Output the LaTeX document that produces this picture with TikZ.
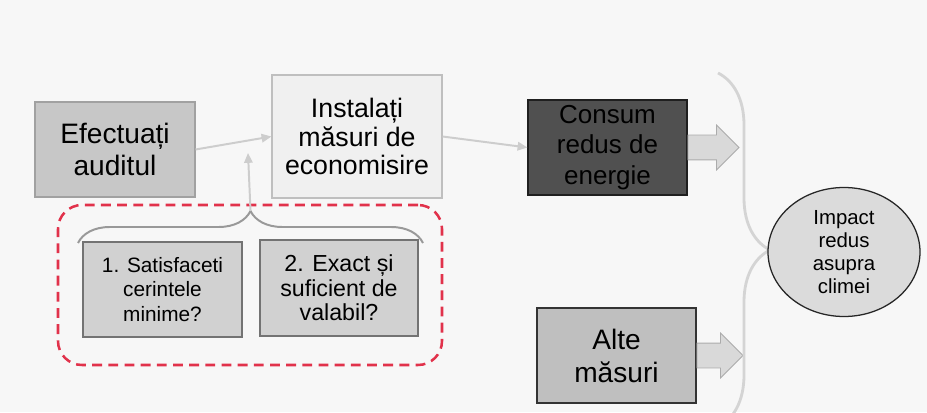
\documentclass[tikz,border=0pt]{standalone}
\usepackage{fontspec}
\setmainfont{Liberation Sans}
\definecolor{bggray}{RGB}{247, 247, 247}
\definecolor{linegray}{RGB}{205, 205, 205}
\definecolor{bracegray}{RGB}{212, 212, 212}
\definecolor{checkred}{RGB}{225, 50, 75}
\definecolor{darkfill}{RGB}{80, 80, 80}
\usetikzlibrary{shapes, arrows.meta, positioning, calc, decorations.pathreplacing}

\begin{document}
\begin{tikzpicture}[
  box/.style={draw, line width=0.8pt, align=center, inner sep=2pt, minimum width=3.975cm, minimum height=2.375cm},
  flow/.style={draw=linegray, line width=1.4pt, -{Triangle[length=7pt, width=6pt]}},
  fatarrow/.style={single arrow, draw=black!33, fill=black!15, line width=0.6pt, single arrow head extend=0.25cm, single arrow tip angle=90, inner xsep=0pt, inner ysep=0.3cm, anchor=tail}
]
  \useasboundingbox (0,0) rectangle (23.175,10.3);
  \fill[bggray] (0,0) rectangle (23.175,10.3);

  % Audit and measures
  \node[box, fill=black!22, draw=black!37, minimum width=4cm, font=\fontsize{20}{23}\selectfont] (audit) at (2.875, 6.5625) {Efectuați\\auditul};
  \node[box, fill=black!6, draw=black!25, minimum width=4.25cm, minimum height=3.075cm, font=\fontsize{19}{20}\selectfont] (install) at (8.925, 6.8875) {Instalați\\măsuri de\\economisire};
  \node[box, fill=darkfill, draw=black!88, font=\fontsize{18.5}{21.5}\selectfont] (consum) at (15.1875, 6.6125) {Consum\\redus de\\energie};
  \node[box, fill=black!25, draw=black!80, font=\fontsize{20}{23.5}\selectfont] (alte) at (15.4125, 1.4125) {Alte\\măsuri};

  \draw[flow] (audit.east) -- (install.west);
  \draw[flow] (install.east) -- (consum.west);

  % Checks
  \node[draw=checkred, line width=1.8pt, dash pattern=on 7pt off 4.5pt, rounded corners=0.6cm, minimum width=9.6cm, minimum height=4cm] (checks) at (6.25, 3.175) {};
  \node[box, fill=black!18, draw=black!55, font=\fontsize{14.8}{17.5}\selectfont] (q1) at (4.0625, 3.0625) {1. Satisfaceti\\cerintele\\minime?};
  \node[box, fill=black!18, draw=black!55, minimum width=3.95cm, minimum height=2.4cm, font=\fontsize{16.5}{17.5}\selectfont] (q2) at (8.475, 3.1) {2. Exact și\\suficient de\\valabil?};

  \draw[draw=black!40, line width=1.4pt, decorate, decoration={brace, amplitude=0.8cm}] (1.95, 4.225) -- (10.575, 4.225);
  \coordinate (bracetip) at (6.2625, 5.025);
  \coordinate (checkin) at (6.2, 6.475);
  \draw[flow] (bracetip) -- (checkin);

  % Impact
  \node[fatarrow, minimum height=1.275cm] (arrowa) at (consum.east) {};
  \node[fatarrow, minimum height=1.15cm] (arrowb) at (alte.east) {};

  \draw[draw=bracegray, line width=2pt, decorate, decoration={brace, amplitude=1.3cm}] (17.95, 8.475) -- (17.95, -0.375);

  \node[ellipse, draw=black!85, fill=black!14, line width=0.9pt, inner sep=0pt, minimum width=3.8cm, minimum height=3.225cm, align=center, font=\fontsize{14.5}{16.5}\selectfont] (impact) at (21.1, 4.0) {Impact\\redus\\asupra\\climei};
\end{tikzpicture}
\end{document}
